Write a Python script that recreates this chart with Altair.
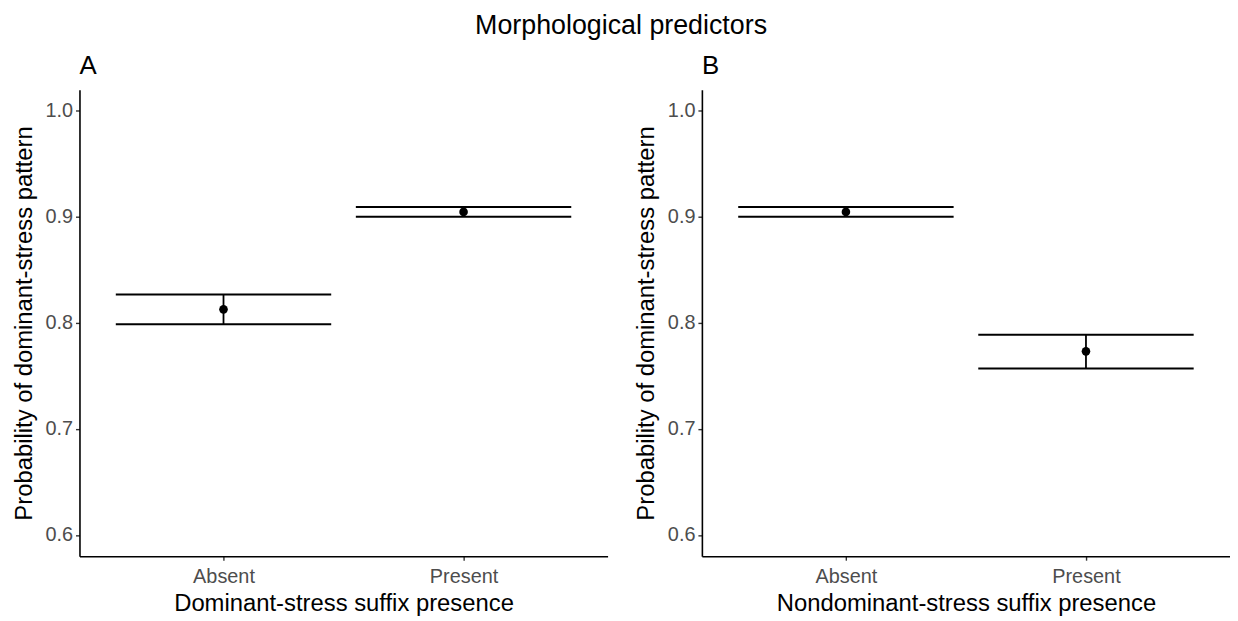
import altair as alt
import pandas as pd

categories = ["Absent", "Present"]

a_est = [0.8128, 0.9047]
a_lo = [0.7988, 0.9001]
a_hi = [0.8268, 0.9094]

b_est = [0.9047, 0.7732]
b_lo = [0.9001, 0.7570]
b_hi = [0.9094, 0.7888]

y_ticks = [0.6, 0.7, 0.8, 0.9, 1.0]

FONT = "Liberation Sans"


def panel(est, lo, hi, xtitle, tag):
    df = pd.DataFrame({"cat": categories, "est": est, "lo": lo, "hi": hi})
    x = alt.X("cat:N", title=xtitle, sort=categories,
              scale=alt.Scale(type="point", padding=0.6),
              axis=alt.Axis(labelAngle=0, labelPadding=6, titlePadding=6))
    yscale = alt.Scale(domain=[0.58, 1.02], nice=False, zero=False)
    yaxis = alt.Axis(values=y_ticks, format=".1f", labelPadding=3, titlePadding=9)
    base = alt.Chart(df)
    hi_t = base.mark_tick(orient="horizontal", size=217, thickness=2, color="black", opacity=1).encode(
        x=x, y=alt.Y("hi:Q", title="Probability of dominant-stress pattern", scale=yscale, axis=yaxis))
    lo_t = base.mark_tick(orient="horizontal", size=217, thickness=2, color="black", opacity=1).encode(
        x=x, y=alt.Y("lo:Q", scale=yscale))
    vr = base.mark_rule(color="black", strokeWidth=1.8, opacity=1).encode(
        x=x, y=alt.Y("lo:Q", scale=yscale), y2="hi:Q")
    pt = base.mark_circle(size=75, color="black", opacity=1).encode(
        x=x, y=alt.Y("est:Q", scale=yscale))
    return alt.layer(hi_t, lo_t, vr, pt).properties(
        width=532, height=470,
        title=alt.Title(tag, anchor="start", frame="group", fontSize=26,
                        fontWeight="normal", font=FONT, color="black", offset=11),
    )


pa = panel(a_est, a_lo, a_hi, "Dominant-stress suffix presence", "A")
pb = panel(b_est, b_lo, b_hi, "Nondominant-stress suffix presence", "B")

chart = alt.hconcat(pa, pb, spacing=27).properties(
    title=alt.Title("Morphological predictors", anchor="middle", fontSize=27,
                    fontWeight="normal", font=FONT, color="black", offset=13),
    padding={"left": 4, "top": 2, "right": 0, "bottom": 0},
).configure_view(stroke=None).configure_axis(
    grid=False, domainColor="black", domainWidth=1.6, tickColor="#333333",
    tickSize=4, tickWidth=1.4, labelColor="#4d4d4d", labelFontSize=20,
    titleFontSize=24, titleColor="black", titleFontWeight="normal",
    labelFont=FONT, titleFont=FONT,
).configure_concat(spacing=27)

chart.save("out.html", embed_options={"renderer": "svg", "actions": False})
